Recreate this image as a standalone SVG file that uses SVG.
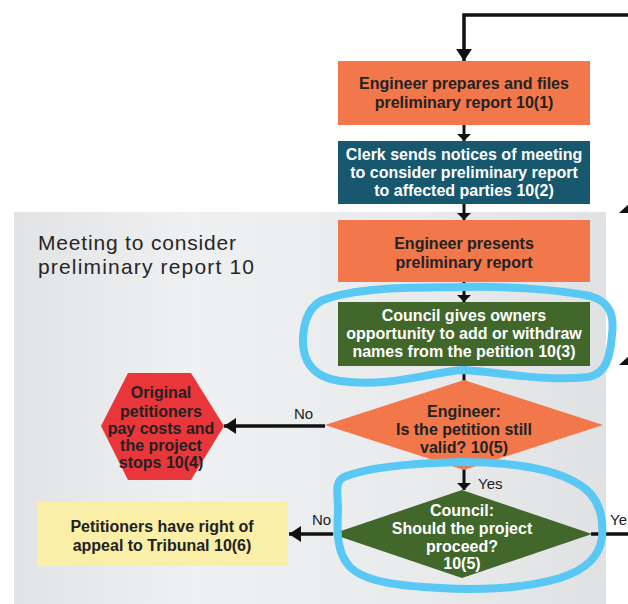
<svg xmlns="http://www.w3.org/2000/svg" width="628" height="604" viewBox="0 0 628 604">
  <defs>
    <linearGradient id="panelFill" x1="0" y1="0" x2="1" y2="0">
      <stop offset="0" stop-color="#e1e3e5"/>
      <stop offset="0.3" stop-color="#eff0f1"/>
      <stop offset="0.7" stop-color="#e9eaec"/>
      <stop offset="1" stop-color="#dfe1e3"/>
    </linearGradient>
    <marker id="head" viewBox="0 0 12 16" refX="12" refY="8" markerWidth="12" markerHeight="16" markerUnits="userSpaceOnUse" orient="auto">
      <path d="M0,0 L12,8 L0,16 Z" fill="#111"/>
    </marker>
    <marker id="headSmall" viewBox="0 0 7 14" refX="7" refY="7" markerWidth="7" markerHeight="14" markerUnits="userSpaceOnUse" orient="auto">
      <path d="M0,0 L7,7 L0,14 Z" fill="#111"/>
    </marker>
    <style>
      .link { fill: none; stroke: #111; stroke-width: 3.5; }
      .step { fill: none; stroke: #111; stroke-width: 3; }
      .orange { fill: #f2784b; }
      .teal { fill: #17586e; }
      .green { fill: #42672a; }
      .red { fill: #e8363a; }
      .yellow { fill: #fbeea6; }
      .lbl { font-family: "Liberation Sans", Arial, sans-serif; font-weight: bold; font-size: 16px; text-anchor: middle; }
      .dark { fill: #222; }
      .light { fill: #fff; }
      .tag { font-family: "Liberation Sans", Arial, sans-serif; font-size: 15px; fill: #222; }
      .title { font-family: "Liberation Sans", Arial, sans-serif; font-size: 21px; fill: #262626; }
      .mark { fill: none; stroke: #5ac8f4; stroke-width: 8; stroke-linejoin: round; }
    </style>
  </defs>

  <!-- meeting panel -->
  <rect x="14" y="212" width="592" height="400" fill="url(#panelFill)"/>
  <text class="title" x="38" y="250" textLength="198" lengthAdjust="spacing">Meeting to consider</text>
  <text class="title" x="38" y="274" textLength="216" lengthAdjust="spacing">preliminary report 10</text>

  <!-- connectors -->
  <g id="connectors">
    <path class="link" d="M628,15 H464 V61" marker-end="url(#head)"/>
    <path class="step" d="M464,125 V141" marker-end="url(#headSmall)"/>
    <path class="step" d="M464,204 V220" marker-end="url(#headSmall)"/>
    <path class="step" d="M464,282 V302" marker-end="url(#headSmall)"/>
    <path class="step" d="M464,366 V381"/>
    <path class="link" d="M325,426 H224" marker-end="url(#head)"/>
    <path class="step" d="M464,468 V490" marker-end="url(#headSmall)"/>
    <path class="link" d="M333,534 H289" marker-end="url(#head)"/>
    <path class="link" d="M591,534 H628"/>
    <polygon points="619,213 630,203 641,213" fill="#111"/>
    <polygon points="619,365 630,355 641,365" fill="#111"/>
    <text class="tag" x="294" y="419">No</text>
    <text class="tag" x="312" y="525">No</text>
    <text class="tag" x="478" y="489">Yes</text>
    <text class="tag" x="610" y="525">Ye</text>
  </g>

  <g id="prepare-report">
    <rect class="orange" x="338" y="61" width="252" height="64"/>
    <text class="lbl dark" x="464" y="89">Engineer prepares and files</text>
    <text class="lbl dark" x="464" y="108">preliminary report 10(1)</text>
  </g>

  <g id="send-notices">
    <rect class="teal" x="338" y="141" width="252" height="63"/>
    <text class="lbl light" x="464" y="160">Clerk sends notices of meeting</text>
    <text class="lbl light" x="464" y="178">to consider preliminary report</text>
    <text class="lbl light" x="464" y="196">to affected parties 10(2)</text>
  </g>

  <g id="present-report">
    <rect class="orange" x="338" y="220" width="252" height="62"/>
    <text class="lbl dark" x="464" y="249">Engineer presents</text>
    <text class="lbl dark" x="464" y="268">preliminary report</text>
  </g>

  <g id="owners-opportunity">
    <rect class="green" x="338" y="302" width="252" height="64"/>
    <text class="lbl light" x="464" y="321">Council gives owners</text>
    <text class="lbl light" x="464" y="339">opportunity to add or withdraw</text>
    <text class="lbl light" x="464" y="357">names from the petition 10(3)</text>
  </g>

  <g id="petition-valid">
    <polygon class="orange" points="464,380 603,425 464,470 325,425"/>
    <text class="lbl dark" x="464" y="417">Engineer:</text>
    <text class="lbl dark" x="464" y="435">Is the petition still</text>
    <text class="lbl dark" x="464" y="453">valid? 10(5)</text>
  </g>

  <g id="project-stops">
    <polygon class="red" points="128,373 191,373 224,426 191,480 128,480 101,426"/>
    <text class="lbl dark" x="161" y="398" font-size="15">Original</text>
    <text class="lbl dark" x="161" y="417" font-size="15">petitioners</text>
    <text class="lbl dark" x="161" y="434" font-size="15">pay costs and</text>
    <text class="lbl dark" x="161" y="451" font-size="15">the project</text>
    <text class="lbl dark" x="161" y="468" font-size="15">stops 10(4)</text>
  </g>

  <g id="project-proceed">
    <polygon class="green" points="462,490 592,534 462,578 332,534"/>
    <text class="lbl light" x="462" y="516">Council:</text>
    <text class="lbl light" x="462" y="534">Should the project</text>
    <text class="lbl light" x="462" y="552">proceed?</text>
    <text class="lbl light" x="462" y="569">10(5)</text>
  </g>

  <g id="appeal">
    <rect class="yellow" x="37" y="502" width="251" height="64"/>
    <text class="lbl dark" x="162" y="532">Petitioners have right of</text>
    <text class="lbl dark" x="162" y="551">appeal to Tribunal 10(6)</text>
  </g>

  <!-- hand-drawn highlight loops -->
  <path class="mark" d="M323,300 C360,286 420,288 463,287 C510,286 560,290 590,296 C612,302 614,318 612,335 C610,358 606,374 588,377 C545,382 500,372 463,370 C430,372 390,388 340,381 C312,377 302,360 303,338 C304,318 310,306 323,300 Z"/>
  <path class="mark" d="M344,477 C370,466 420,463 460,462 C510,462 550,468 575,482 C598,494 604,515 602,537 C600,556 585,570 560,578 C520,590 470,590 440,588 C400,586 365,582 350,567 C336,552 337,530 338,510 C338,494 334,482 344,477 Z"/>
</svg>
